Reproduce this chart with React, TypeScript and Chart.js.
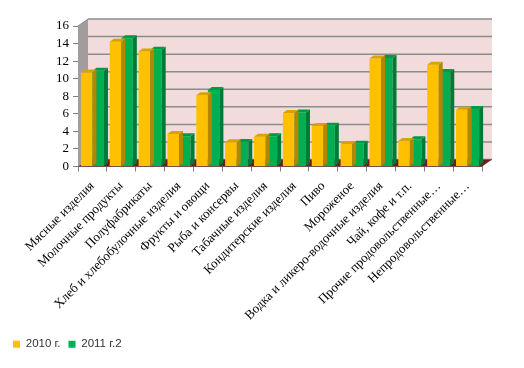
import React, { useEffect, useRef } from "react";
import { Chart, registerables } from "chart.js";

Chart.register(...registerables);

const categories = [
  "Мясные изделия",
  "Молочные продукты",
  "Полуфабрикаты",
  "Хлеб и хлебобулочные изделия",
  "Фрукты и овощи",
  "Рыба и консервы",
  "Табачные изделия",
  "Кондитерские изделия",
  "Пиво",
  "Мороженое",
  "Водка и ликеро-водочные изделия",
  "Чай, кофе и т.п.",
  "Прочие продовольственные…",
  "Непродовольственные…",
];

const series2010 = [10.7, 14.2, 13.1, 3.7, 8.1, 2.75, 3.4, 6.1, 4.6, 2.55, 12.3, 2.9, 11.6, 6.45];
const series2011 = [10.9, 14.6, 13.3, 3.45, 8.7, 2.8, 3.45, 6.15, 4.65, 2.6, 12.35, 3.1, 10.75, 6.55];

const seriesNames = ["2010 г.", "2011 г.2"];
const yTicks = { min: 0, max: 16, step: 2 };

const WALL_DX = 10;
const WALL_DY = -7;
const BAR_DX = 4;
const BAR_DY = -3;

const faceColors = [
  { front: "#FFC000", side: "#B38600", top: "#D9A200" },
  { front: "#00B050", side: "#007A37", top: "#009A45" },
];

const threeD = {
  id: "threeD",
  beforeDatasetsDraw(chart: any) {
    const { ctx, chartArea } = chart;
    const { left, right, top, bottom } = chartArea;
    const y = chart.scales.y;
    ctx.save();
    ctx.fillStyle = "#F2DCDB";
    ctx.fillRect(left + WALL_DX, top + WALL_DY, right - left, bottom - top);
    ctx.strokeStyle = "#8C8C8C";
    ctx.lineWidth = 1.5;
    for (let v = yTicks.min; v <= yTicks.max; v += yTicks.step) {
      const py = y.getPixelForValue(v) + WALL_DY;
      ctx.beginPath();
      ctx.moveTo(left + WALL_DX, py);
      ctx.lineTo(right + WALL_DX, py);
      ctx.stroke();
    }
    ctx.fillStyle = "#A39C9C";
    ctx.beginPath();
    ctx.moveTo(left, top);
    ctx.lineTo(left + WALL_DX, top + WALL_DY);
    ctx.lineTo(left + WALL_DX, bottom + WALL_DY);
    ctx.lineTo(left, bottom);
    ctx.closePath();
    ctx.fill();
    ctx.strokeStyle = "#8C8C8C";
    ctx.lineWidth = 1;
    ctx.beginPath();
    ctx.moveTo(left, top);
    ctx.lineTo(left + WALL_DX, top + WALL_DY);
    ctx.stroke();
    ctx.fillStyle = "#6E1C1C";
    ctx.beginPath();
    ctx.moveTo(left, bottom);
    ctx.lineTo(left + WALL_DX, bottom + WALL_DY);
    ctx.lineTo(right + WALL_DX, bottom + WALL_DY);
    ctx.lineTo(right, bottom);
    ctx.closePath();
    ctx.fill();
    ctx.restore();
  },
  afterDatasetDraw(chart: any, args: any) {
    const { ctx } = chart;
    const meta = args.meta;
    const colors = faceColors[args.index];
    ctx.save();
    meta.data.forEach((bar: any) => {
      const { x, y, base, width } = bar.getProps(["x", "y", "base", "width"], true);
      const l = x - width / 2;
      const r = x + width / 2;
      ctx.fillStyle = colors.side;
      ctx.beginPath();
      ctx.moveTo(r, y);
      ctx.lineTo(r + BAR_DX, y + BAR_DY);
      ctx.lineTo(r + BAR_DX, base + BAR_DY);
      ctx.lineTo(r, base);
      ctx.closePath();
      ctx.fill();
      ctx.fillStyle = colors.top;
      ctx.beginPath();
      ctx.moveTo(l, y);
      ctx.lineTo(l + BAR_DX, y + BAR_DY);
      ctx.lineTo(r + BAR_DX, y + BAR_DY);
      ctx.lineTo(r, y);
      ctx.closePath();
      ctx.fill();
    });
    ctx.restore();
  },
};

export default function App() {
  const ref = useRef<HTMLCanvasElement | null>(null);
  useEffect(() => {
    if (!ref.current) return;
    const chart = new Chart(ref.current, {
      type: "bar",
      data: {
        labels: categories,
        datasets: [
          { label: seriesNames[0], data: series2010, backgroundColor: faceColors[0].front, borderWidth: 0 },
          { label: seriesNames[1], data: series2011, backgroundColor: faceColors[1].front, borderWidth: 0 },
        ],
      },
      options: {
        responsive: false,
        animation: false,
        devicePixelRatio: 1,
        layout: { padding: { top: 26, right: 42, left: 5, bottom: 8 } },
        datasets: { bar: { categoryPercentage: 0.8, barPercentage: 1.0 } },
        plugins: {
          legend: {
            position: "bottom",
            align: "start",
            labels: {
              boxWidth: 7,
              boxHeight: 7,
              padding: 8,
              color: "#333333",
              font: { family: "'Liberation Sans', Arial, sans-serif", size: 11.5 },
            },
          },
          tooltip: { enabled: false },
        },
        scales: {
          x: {
            grid: { offset: true, drawOnChartArea: false, drawTicks: true, tickLength: 5, color: "#808080" },
            border: { display: true, color: "#808080" },
            ticks: {
              autoSkip: false,
              maxRotation: 45,
              minRotation: 45,
              padding: 7,
              color: "#000000",
              font: { family: "'Liberation Serif', 'Times New Roman', serif", size: 13 },
            },
            afterFit: (s: any) => {
              s.height = 368 - 8 - 29 - 167;
            },
          },
          y: {
            min: yTicks.min,
            max: yTicks.max,
            grid: { drawOnChartArea: false, drawTicks: true, tickLength: 5, color: "#808080" },
            border: { display: true, color: "#808080" },
            ticks: {
              stepSize: yTicks.step,
              autoSkip: false,
              padding: 4,
              color: "#000000",
              font: { family: "'Liberation Serif', 'Times New Roman', serif", size: 13 },
            },
            afterFit: (s: any) => {
              s.width = 73;
            },
          },
        },
      },
      plugins: [threeD],
    } as any);
    return () => chart.destroy();
  }, []);
  return (
    <div style={{ position: "fixed", left: 0, top: 0, width: 524, height: 368, background: "#fff" }}>
      <canvas ref={ref} width={524} height={368} style={{ display: "block" }} />
    </div>
  );
}
